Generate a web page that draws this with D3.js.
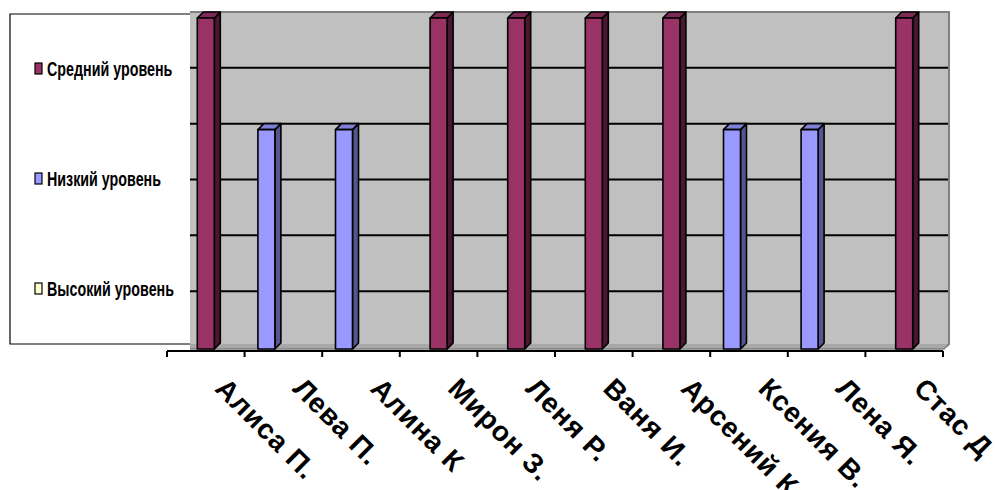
<!DOCTYPE html>
<html>
<head>
<meta charset="utf-8">
<script src="https://cdn.jsdelivr.net/npm/d3@7"></script>
<style>
  html, body { margin: 0; padding: 0; background: #fff; }
  svg { display: block; }
</style>
</head>
<body>
<svg id="chart" width="998" height="490"></svg>
<script>
// Students along the category axis
const students = ["Алиса П.", "Лева П.", "Алина К", "Мирон З.", "Леня Р.", "Ваня И.", "Арсений К.", "Ксения В.", "Лена Я.", "Стас Д"];

// Series values per student
const sredniy = [3, 0, 0, 3, 3, 3, 3, 0, 0, 3];
const nizkiy  = [0, 2, 2, 0, 0, 0, 0, 2, 2, 0];
const vysokiy = [0, 0, 0, 0, 0, 0, 0, 0, 0, 0];

// Series names, in legend order
const seriesNames = ["Средний уровень", "Низкий уровень", "Высокий уровень"];
// Placement of each series inside a cluster (left to right)
const clusterOrder = ["Низкий уровень", "Средний уровень", "Высокий уровень"];

// Value-axis gridline ticks
const gridTicks = [0.5, 1, 1.5, 2, 2.5];

const seriesValues = {
  "Средний уровень": sredniy,
  "Низкий уровень": nizkiy,
  "Высокий уровень": vysokiy
};

const colors = {
  "Средний уровень": { front: "#993366", side: "#4a1730", top: "#7d2a55" },
  "Низкий уровень":  { front: "#9999ff", side: "#55558f", top: "#7f7fd6" },
  "Высокий уровень": { front: "#ffffcc", side: "#8f8f70", top: "#d6d6aa" }
};

const svg = d3.select("#chart");

// Layout
const wall = { left: 190, right: 949, top: 12, bottom: 347 };
const axisY = 351;
const depth = { dx: 6, dy: 6 };
const barW = 17;

const x = d3.scaleBand().domain(students).range([167, 943]).padding(0);
const xInner = d3.scaleBand().domain(clusterOrder)
  .range([-1.5 * barW, 1.5 * barW]).padding(0);
const y = d3.scaleLinear().domain([0, 3]).range([wall.bottom, wall.top]);

// Back wall
svg.append("rect")
  .attr("x", wall.left).attr("y", wall.top)
  .attr("width", wall.right - wall.left).attr("height", wall.bottom - wall.top)
  .attr("fill", "#c0c0c0");

// Gridlines on the wall
svg.append("g").selectAll("line").data(gridTicks).join("line")
  .attr("x1", wall.left).attr("x2", wall.right - 1)
  .attr("y1", d => y(d)).attr("y2", d => y(d))
  .attr("stroke", "#000").attr("stroke-width", 2);

// Wall top and right edges
svg.append("path")
  .attr("d", `M${wall.left},${wall.top} H${wall.right} V${wall.bottom - 2}`)
  .attr("fill", "none").attr("stroke", "#808080").attr("stroke-width", 2);

// Floor slab
svg.append("path")
  .attr("d", `M${wall.left},${wall.bottom - 3} H${wall.right} L${wall.right - 5},${wall.bottom + 2} H${wall.left} Z`)
  .attr("fill", "#a8a8a8");
svg.append("path")
  .attr("d", `M${wall.left},${wall.bottom + 2} H${wall.right - 5} L${wall.right},${wall.bottom - 3}`)
  .attr("fill", "none").attr("stroke", "#808080").attr("stroke-width", 1.5);

// Bars as 3D columns
const bars = [];
clusterOrder.forEach(s => {
  seriesValues[s].forEach((v, i) => {
    if (v > 0) bars.push({ series: s, student: students[i], value: v });
  });
});

const barG = svg.append("g");
const floorFront = wall.bottom + 2;
bars.forEach(b => {
  const x0 = x(b.student) + x.bandwidth() / 2 + xInner(b.series);
  const x1 = x0 + barW;
  const backTop = y(b.value);
  const fTop = backTop + depth.dy;
  const c = colors[b.series];
  const g = barG.append("g")
    .attr("stroke", "#000").attr("stroke-width", 1.6).attr("stroke-linejoin", "round");
  // side face
  g.append("path")
    .attr("d", `M${x1},${fTop} L${x1 + depth.dx},${backTop} L${x1 + depth.dx},${floorFront - depth.dy} L${x1},${floorFront} Z`)
    .attr("fill", c.side);
  // top face
  g.append("path")
    .attr("d", `M${x0},${fTop} L${x0 + depth.dx},${backTop} L${x1 + depth.dx},${backTop} L${x1},${fTop} Z`)
    .attr("fill", c.top);
  // front face
  g.append("rect")
    .attr("x", x0).attr("y", fTop)
    .attr("width", barW).attr("height", floorFront - fTop)
    .attr("fill", c.front);
});

// Category axis
const axisG = svg.append("g");
axisG.append("line")
  .attr("x1", x.range()[0]).attr("x2", x.range()[1])
  .attr("y1", axisY).attr("y2", axisY)
  .attr("stroke", "#000").attr("stroke-width", 2);
const tickPos = students.map(s => x(s)).concat([x.range()[1]]);
axisG.selectAll("line.tick").data(tickPos).join("line")
  .attr("class", "tick")
  .attr("x1", d => d).attr("x2", d => d)
  .attr("y1", axisY).attr("y2", axisY + 6)
  .attr("stroke", "#000").attr("stroke-width", 2);

// Rotated category labels
axisG.selectAll("text").data(students).join("text")
  .attr("transform", d => `translate(${x(d) + x.bandwidth() / 2 + 8},390) rotate(45)`)
  .attr("font-family", "'Liberation Sans', Arial, sans-serif")
  .attr("font-weight", "bold")
  .attr("font-size", 28)
  .attr("letter-spacing", 0.8)
  .attr("fill", "#000")
  .text(d => d);

// Legend
const legend = { left: 10, right: 190, top: 14, bottom: 344 };
svg.append("rect")
  .attr("x", legend.left).attr("y", legend.top)
  .attr("width", legend.right - legend.left).attr("height", legend.bottom - legend.top)
  .attr("fill", "#fff");
svg.append("path")
  .attr("d", `M${legend.right},${legend.top} H${legend.left} V${legend.bottom} H${legend.right}`)
  .attr("fill", "none").attr("stroke", "#000").attr("stroke-width", 1.2);

const rowY = d3.scalePoint().domain(seriesNames).range([76, 296]);
const items = svg.append("g").selectAll("g").data(seriesNames).join("g")
  .attr("transform", d => `translate(0,${rowY(d)})`);
items.append("rect")
  .attr("x", 35).attr("y", -13).attr("width", 7).attr("height", 11)
  .attr("fill", d => colors[d].front)
  .attr("stroke", "#000").attr("stroke-width", 1.2);
items.append("text")
  .attr("x", 47).attr("y", 0)
  .attr("font-family", "'Liberation Sans', Arial, sans-serif")
  .attr("font-weight", "bold")
  .attr("font-size", 21)
  .attr("fill", "#000")
  .text(d => d)
  .each(function () {
    const w = this.getComputedTextLength();
    d3.select(this).attr("textLength", w * 0.68).attr("lengthAdjust", "spacingAndGlyphs");
  });
</script>
</body>
</html>
